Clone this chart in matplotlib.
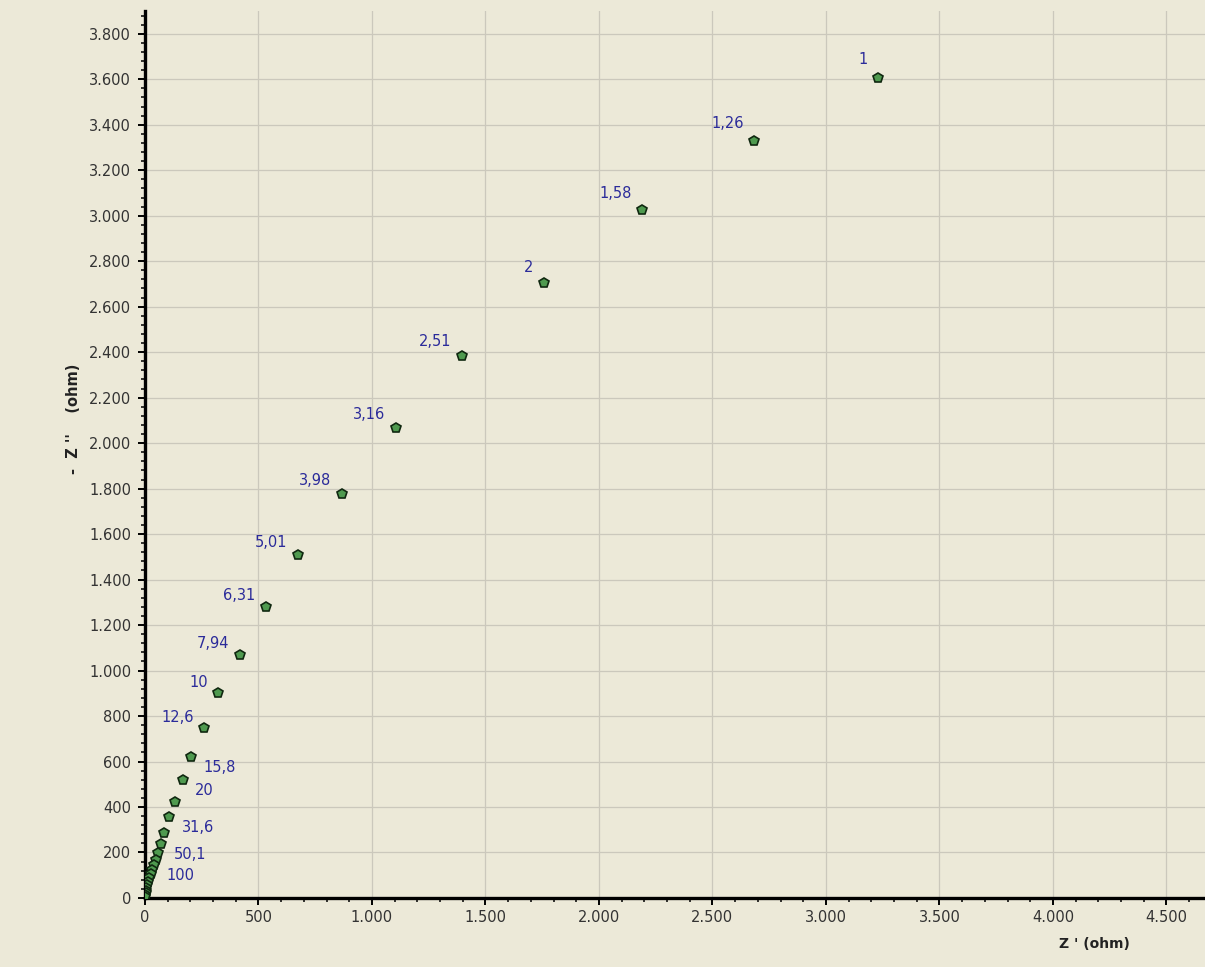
import matplotlib
matplotlib.use("Agg")
import matplotlib.pyplot as plt
from matplotlib.ticker import MultipleLocator, FuncFormatter

# Nyquist data (frequency in Hz, Z' and -Z'' in ohm)
freq = [1, 1.26, 1.58, 2, 2.51, 3.16, 3.98, 5.01, 6.31, 7.94, 10, 12.6, 15.8, 20, 25.1,
        31.6, 39.8, 50.1, 63.1, 79.4, 100, 126, 158, 200, 251, 316, 398, 501, 631, 794, 1000]
z_re = [3229, 2683, 2189, 1758, 1396, 1106, 868, 674, 533, 419, 322, 260, 203, 167, 132,
        106, 84, 70, 57, 48, 40, 31, 26, 18, 13, 9, 6, 4, 3, 2, 1]
z_im = [3606, 3329, 3025, 2704, 2383, 2067, 1777, 1508, 1280, 1069, 901, 748, 620, 519, 422,
        356, 286, 237, 198, 167, 145, 123, 106, 88, 70, 57, 44, 30, 20, 12, 6]
labels_left = [1, 1.26, 1.58, 2, 2.51, 3.16, 3.98, 5.01, 6.31, 7.94, 10, 12.6]
labels_right = [15.8, 20, 31.6, 50.1, 100]

bg = "#ECE9D8"
plt.rcParams["font.family"] = "DejaVu Sans"

fig = plt.figure(figsize=(12.05, 9.67), dpi=100, facecolor=bg)
ax = fig.add_axes([0.1203, 0.0714, 0.8797, 0.9172], facecolor=bg)

ax.plot(z_re, z_im, linestyle="none", marker="p", markersize=7.5,
        markerfacecolor="#4f9a4f", markeredgecolor="#102810", markeredgewidth=1.2, zorder=3)

def flabel(f):
    return ("%g" % f).replace(".", ",")

for f, x, y in zip(freq, z_re, z_im):
    if f in labels_left:
        # labels sit a bit higher above the marker further up the curve
        dy = 0.5 + 7.0 * y / 3600
        ax.annotate(flabel(f), (x, y), xytext=(-7.5, dy), textcoords="offset points",
                    ha="right", va="bottom", fontsize=10.5, color="#2b2b9a", zorder=4)
    elif f in labels_right:
        ax.annotate(flabel(f), (x, y), xytext=(9, -2), textcoords="offset points",
                    ha="left", va="top", fontsize=10.5, color="#2b2b9a", zorder=4)

ax.set_xlim(0, 4670)
ax.set_ylim(0, 3900)

ax.xaxis.set_major_locator(MultipleLocator(500))
ax.xaxis.set_minor_locator(MultipleLocator(100))
ax.yaxis.set_major_locator(MultipleLocator(200))
ax.yaxis.set_minor_locator(MultipleLocator(40))
fmt = FuncFormatter(lambda v, p: "{:,.0f}".format(v).replace(",", "."))
ax.xaxis.set_major_formatter(fmt)
ax.yaxis.set_major_formatter(fmt)

ax.grid(True, which="major", color="#cbc8bc", linewidth=0.9)
ax.set_axisbelow(True)

for s in ["top", "right"]:
    ax.spines[s].set_visible(False)
for s in ["left", "bottom"]:
    ax.spines[s].set_linewidth(2.4)
    ax.spines[s].set_color("black")

ax.tick_params(which="major", direction="out", length=5, width=1.4, color="black",
               labelsize=10.5, labelcolor="#333333")
ax.tick_params(axis="y", which="major", pad=5)
ax.tick_params(axis="x", which="major", pad=4)
ax.tick_params(which="minor", direction="out", length=3, width=1.1, color="black")

ax.set_xlabel("Z ' (ohm)", fontsize=10, fontweight="bold", color="#222222")
ax.xaxis.set_label_coords(0.896, -0.044)
ax.set_ylabel("-  Z ''    (ohm)", fontsize=10.5, fontweight="bold", color="#222222")
ax.yaxis.set_label_coords(-0.060, 0.54)

fig.savefig("out.png", dpi=100, facecolor=bg)
